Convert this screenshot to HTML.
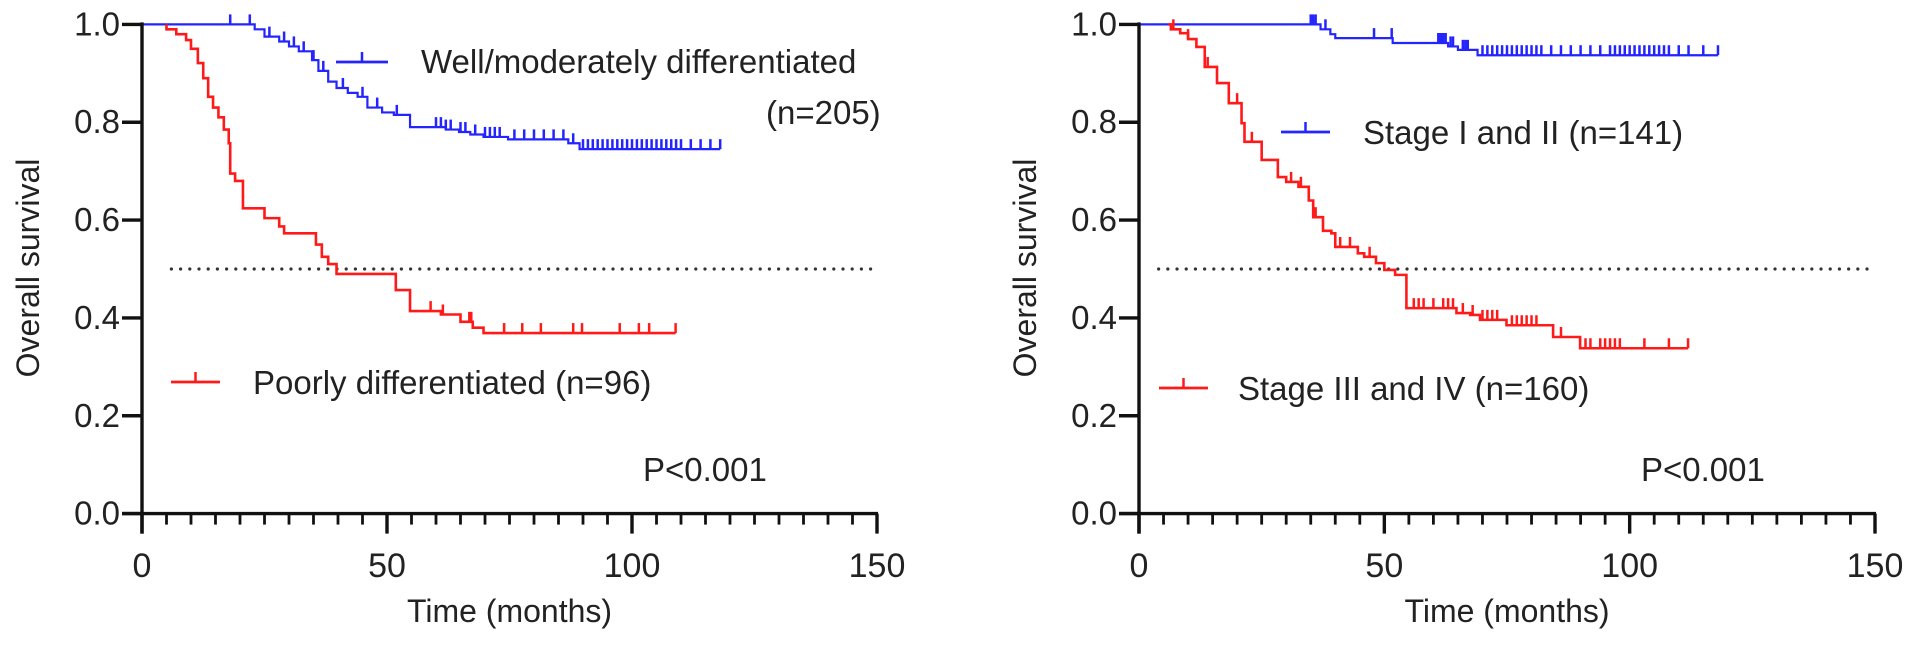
<!DOCTYPE html>
<html><head><meta charset="utf-8"><style>
html,body{margin:0;padding:0;background:#fff}
svg{display:block}
text{font-family:"Liberation Sans",Arial,sans-serif;fill:#222}
</style></head><body>
<svg id="chart" width="1913" height="646" viewBox="0 0 1913 646" xmlns="http://www.w3.org/2000/svg"></svg>
<script>
// Left panel data
const leftBlueT=[23,25,28,30,32,34.7,36,38,39.7,42,44,46,49,51.4,54.7,62,64.7,67,69.7,74.7,87,89.3];
const leftBlueS=[0.99,0.975,0.965,0.955,0.945,0.927,0.905,0.883,0.87,0.86,0.852,0.83,0.82,0.815,0.79,0.785,0.78,0.775,0.77,0.765,0.757,0.745];
const leftBlueEnd=118;
const leftBlueCens=[18,22,26,29,31,33,35,37,41,45,48,52,60,61,62,63,65,66,68,70,71,72,73,76,78,80,82,84,86,88,90,91,92,93,94,95,96,97,98,99,100,101,102,103,104,105,106,107,108,109,110,112,114,116,118];
const leftRedT=[5,7,9,10,11.4,12.5,13.5,14.5,15.6,16.7,17.7,18,19,20.6,25,28,29,35.5,36.7,38,39.7,51.8,54.7,61,65,67.5,69.7];
const leftRedS=[0.99,0.98,0.968,0.95,0.921,0.89,0.852,0.83,0.81,0.785,0.757,0.695,0.68,0.624,0.604,0.587,0.573,0.55,0.525,0.51,0.49,0.457,0.414,0.407,0.392,0.38,0.369];
const leftRedEnd=108.9;
const leftRedCens=[58.9,61.4,66.8,67.2,73.9,77.6,81.4,88,89.8,97.5,101.4,103.5,108.9];
// Right panel data
const rightBlueT=[37,39,40,51.7,63,65,69];
const rightBlueS=[0.99,0.98,0.972,0.962,0.955,0.948,0.937];
const rightBlueEnd=118;
const rightBlueCens=[35,35.5,36,38,47.9,51.5,61,61.5,62,62.5,63.5,64,66,66.5,67,70,71,72,73,74,75,76,77,78,79,80,81,82,84,86,88,90,92,94,96,97,98,99,100,101,102,103,104,105,106,107,108,110,112,115,118];
const rightRedT=[6.5,8.4,10,11.7,13.4,15.9,18.3,20.9,21.5,25,28.3,30,32.5,34.6,35.5,37.5,39.2,40,44.6,45.9,48.3,50,52.2,54.5,64.7,67.5,69.5,74.9,84.4,89.9];
const rightRedS=[0.99,0.982,0.97,0.954,0.913,0.88,0.839,0.798,0.76,0.723,0.688,0.678,0.668,0.64,0.606,0.578,0.573,0.545,0.532,0.525,0.512,0.498,0.488,0.42,0.41,0.406,0.396,0.385,0.361,0.338];
const rightRedEnd=111.9;
const rightRedCens=[7,10,14,20,23,31,33,36,41,43,47,56,57,58,60,62,63,64,66,68,70,71,72,73,76,77,78,79,80,81,86,91,92,94,95,96,97,98,103,108,111.9];
const xTicks=[0,50,100,150];
const yTicks=[0,0.2,0.4,0.6,0.8,1.0];
const yTickLabels=["0.0","0.2","0.4","0.6","0.8","1.0"];

const NS="http://www.w3.org/2000/svg";
const svg=document.getElementById('chart');
function mk(tag,attrs,parent){const e=document.createElementNS(NS,tag);for(const k in attrs)e.setAttribute(k,attrs[k]);(parent||svg).appendChild(e);return e;}
const Y1=24.4,Y0=513.6;
function yS(s){return Y0-(Y0-Y1)*s;}

function panel(name,X0,X150,dotStart,blue,red,legends,pX){
  const g=mk('g',{});
  
  
  const xS=t=>X0+(X150-X0)*t/150;
  const dl=mk('line',{x1:xS(dotStart),x2:X150,y1:yS(0.5),y2:yS(0.5),stroke:'#333','stroke-width':3.2,'stroke-dasharray':'0 9.2','stroke-linecap':'round'},g);
  
  
  [blue,red].forEach(c=>{
    let d='M'+xS(c.start)+','+yS(1);
    for(let i=0;i<c.T.length;i++){d+=' H'+xS(c.T[i])+' V'+yS(c.S[i]);}
    d+=' H'+xS(c.end);
    const p=mk('path',{d:d,fill:'none',stroke:c.color,'stroke-width':c.w},g);
    
    
    const cg=mk('g',{stroke:c.color,'stroke-width':2.5},g);
    
    
    c.cens.forEach(t=>{
      let s=1;for(let i=0;i<c.T.length;i++){if(c.T[i]<=t)s=c.S[i];}
      const m=mk('line',{x1:xS(t),x2:xS(t),y1:yS(s),y2:yS(s)-10},cg);
      
      
    });
  });
  const ax=mk('g',{stroke:'#111','stroke-width':3.4},g);
  
  
  mk('line',{x1:X0,x2:X0,y1:Y1-2,y2:Y0+20},ax);
  mk('line',{x1:X0-20,x2:X150+1,y1:Y0,y2:Y0},ax);
  for(let t=0;t<=150;t+=5){mk('line',{x1:xS(t),x2:xS(t),y1:Y0,y2:Y0+(t%50===0?20:11),'stroke-width':t%50===0?3.4:2.8},ax);}
  yTicks.forEach(v=>{mk('line',{x1:X0-20,x2:X0,y1:yS(v),y2:yS(v)},ax);});
  yTicks.forEach((v,i)=>{const tx=mk('text',{x:X0-22,y:yS(v)+11,'font-size':33,'text-anchor':'end'},g);tx.textContent=yTickLabels[i];
    });
  xTicks.forEach(v=>{const tx=mk('text',{x:xS(v),y:577,'font-size':34,'text-anchor':'middle'},g);tx.textContent=v;
    });
  const xt=mk('text',{x:(X0+X150)/2,y:622,'font-size':32,'text-anchor':'middle'},g);xt.textContent='Time (months)';
  
  const yt=mk('text',{x:0,y:11,'font-size':32,'text-anchor':'middle',transform:`translate(${X0-114},268) rotate(-90)`},g);yt.textContent='Overall survival';
  
  const pv=mk('text',{x:pX,y:481,'font-size':33},g);pv.textContent='P<0.001';
  
  legends.forEach(L=>{
    const lg=mk('g',{},g);
    
    
    mk('line',{x1:L.x1,x2:L.x2,y1:L.y,y2:L.y,stroke:L.color,'stroke-width':2.8},lg);
    mk('line',{x1:(L.x1+L.x2)/2,x2:(L.x1+L.x2)/2,y1:L.y,y2:L.y-10,stroke:L.color,'stroke-width':2.5},lg);
    L.lines.forEach(tl=>{const tx=mk('text',{x:tl.x,y:tl.y,'font-size':33},lg);tx.textContent=tl.t;});
  });
}
panel('left-panel-differentiation',142,877,6,
  {name:'well-moderately',T:leftBlueT,S:leftBlueS,end:leftBlueEnd,cens:leftBlueCens,color:'#2424ff',w:2.2,start:0},
  {name:'poorly',T:leftRedT,S:leftRedS,end:leftRedEnd,cens:leftRedCens,color:'#ff1a1a',w:2.6,start:5},
  [{x1:336,x2:388,y:62,color:'#2424ff',lines:[{x:421,y:73,t:'Well/moderately differentiated'},{x:766,y:124,t:'(n=205)'}]},
   {x1:171,x2:220,y:382,color:'#ff1a1a',lines:[{x:253,y:394,t:'Poorly differentiated (n=96)'}]}],643);
panel('right-panel-stage',1139,1875,4,
  {name:'stage-i-ii',T:rightBlueT,S:rightBlueS,end:rightBlueEnd,cens:rightBlueCens,color:'#2424ff',w:2.2,start:0},
  {name:'stage-iii-iv',T:rightRedT,S:rightRedS,end:rightRedEnd,cens:rightRedCens,color:'#ff1a1a',w:2.6,start:6},
  [{x1:1281,x2:1330,y:132,color:'#2424ff',lines:[{x:1363,y:144,t:'Stage I and II (n=141)'}]},
   {x1:1159,x2:1208,y:388,color:'#ff1a1a',lines:[{x:1238,y:400,t:'Stage III and IV (n=160)'}]}],1641);
</script>
</body></html>
